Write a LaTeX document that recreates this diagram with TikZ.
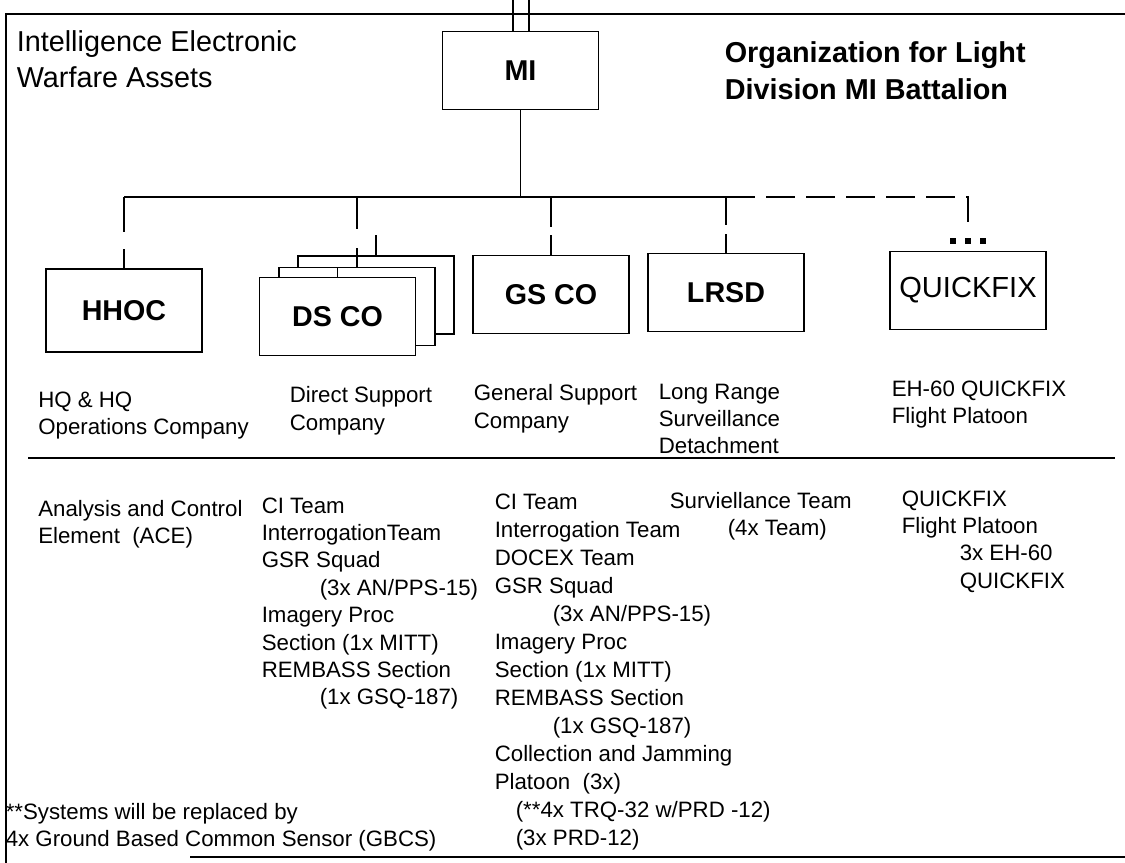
\documentclass[tikz,border=0pt]{standalone}
\usepackage{fontspec}
\setmainfont{Liberation Sans}
\usetikzlibrary{arrows}

\newcommand{\indentx}{\hspace*{43.5pt}}

\begin{document}
\begin{tikzpicture}[
            x = 0.75pt, % one unit is one pixel
            y = -0.75pt, % y runs downwards
            line width = 1.2pt, % line style
            inner sep = 0pt
        ]

        \tikzstyle{unit}=[
            draw = black,
            fill = white,
            minimum width = 117pt,
            minimum height = 58.5pt,
            font = \bfseries\fontsize{21.5}{26}\selectfont
        ]
        % texts are placed at the baseline of their last line
        \tikzstyle{desc}=[
            anchor = base west,
            align = left,
            font = \fontsize{16.7}{20.55}\selectfont
        ]
        \tikzstyle{title}=[
            anchor = base west,
            align = left,
            font = \fontsize{21.6}{27}\selectfont
        ]
        \tikzstyle{headline}=[
            anchor = base west,
            align = left,
            font = \bfseries\fontsize{21.6}{27.5}\selectfont
        ]

        \useasboundingbox (0,0) rectangle (1125,863);

        % frame
        \draw (1125,14) -- (6,14) -- (6,863);
        \draw (190,857) -- (1125,857);

        \node[title] (iew) at (16,88) {Intelligence Electronic\\Warfare Assets};
        \node[headline] (org) at (724,99.5) {Organization for Light\\Division MI Battalion};

        \node[unit] (mi) at (520.5,70.5) {MI};

        \node[unit, minimum height=62pt] (hhoc) at (124,310.5) {HHOC};
        \node[unit] (ds3) at (376,295) {};
        \node[unit] (ds2) at (357,306.5) {};
        \node[unit] (ds1) at (337.5,316.5) {DS CO};
        \node[unit] (gs) at (551,294.5) {GS CO};
        \node[unit] (lrsd) at (726,292.5) {LRSD};
        \node[unit, font=\fontsize{21.8}{26}\selectfont] (qf) at (968,290.5) {QUICKFIX};

        \coordinate (bus) at (520.5,197);

        \draw ([xshift=-5.6pt]mi.north) -- ++(0,-33);
        \draw ([xshift=6.4pt]mi.north) -- ++(0,-33);
        \draw (mi.south) -- (bus);
        \draw (bus -| hhoc.north) -- (bus -| lrsd.north);
        \draw[dash pattern=on 22pt off 8pt] (bus -| lrsd.north) -- (bus -| qf.north) -- ++(0,25);

        \draw (bus -| hhoc.north) -- ++(0,35);
        \draw (hhoc.north) -- ++(0,-19);
        \draw (bus -| ds2.north) -- ++(0,32);
        \draw (ds2.north) -- ++(0,-19);
        \draw (ds3.north) -- ++(0,-20);
        \draw (ds1.north) -- (ds1.north |- ds2.north);
        \draw (bus -| gs.north) -- ++(0,30);
        \draw (gs.north) -- ++(0,-20);
        \draw (bus -| lrsd.north) -- ++(0,28);
        \draw (lrsd.north) -- ++(0,-19);

        \foreach \x in {953,968,983}
            \fill (\x-3,238) rectangle ++(6,6);

        \node[desc] (hhocd) at (37.5,434.4) {HQ \& HQ\\Operations Company};
        \node[desc] (dsd) at (289,430) {Direct Support\\Company};
        \node[desc] (gsd) at (473,428) {General Support\\Company};
        \node[desc] (lrsdd) at (658,453.8) {Long Range\\Surveillance\\Detachment};
        \node[desc] (qfd) at (891,423.4) {EH-60 QUICKFIX\\Flight Platoon};

        \draw (28,458) -- (1115,458);

        \node[desc] (ace) at (37.5,543.4) {Analysis and Control\\Element\ \ (ACE)};
        \node[desc] (dsl) at (261,704.8) {CI Team\\InterrogationTeam\\GSR Squad\\\indentx(3x AN/PPS-15)\\Imagery Proc\\Section (1x MITT)\\REMBASS Section\\\indentx(1x GSQ-187)};
        \node[desc, font=\fontsize{16.7}{21}\selectfont] (gsl) at (494,845) {CI Team\\Interrogation Team\\DOCEX Team\\GSR Squad\\\indentx(3x AN/PPS-15)\\Imagery Proc\\Section (1x MITT)\\REMBASS Section\\\indentx(1x GSQ-187)\\Collection and Jamming\\Platoon\ \ (3x)\\\hspace*{15.75pt}(**4x TRQ-32 w/PRD -12)\\\hspace*{15.75pt}(3x PRD-12)};
        \node[desc] (lrsdl) at (669,535.4) {Surviellance Team\\\indentx(4x Team)};
        \node[desc] (qfl) at (901,588.2) {QUICKFIX\\Flight Platoon\\\indentx 3x EH-60\\\indentx QUICKFIX};

        \node[desc] (note) at (5,846.4) {**Systems will be replaced by\\4x Ground Based Common Sensor (GBCS)};
    \end{tikzpicture}
\end{document}
